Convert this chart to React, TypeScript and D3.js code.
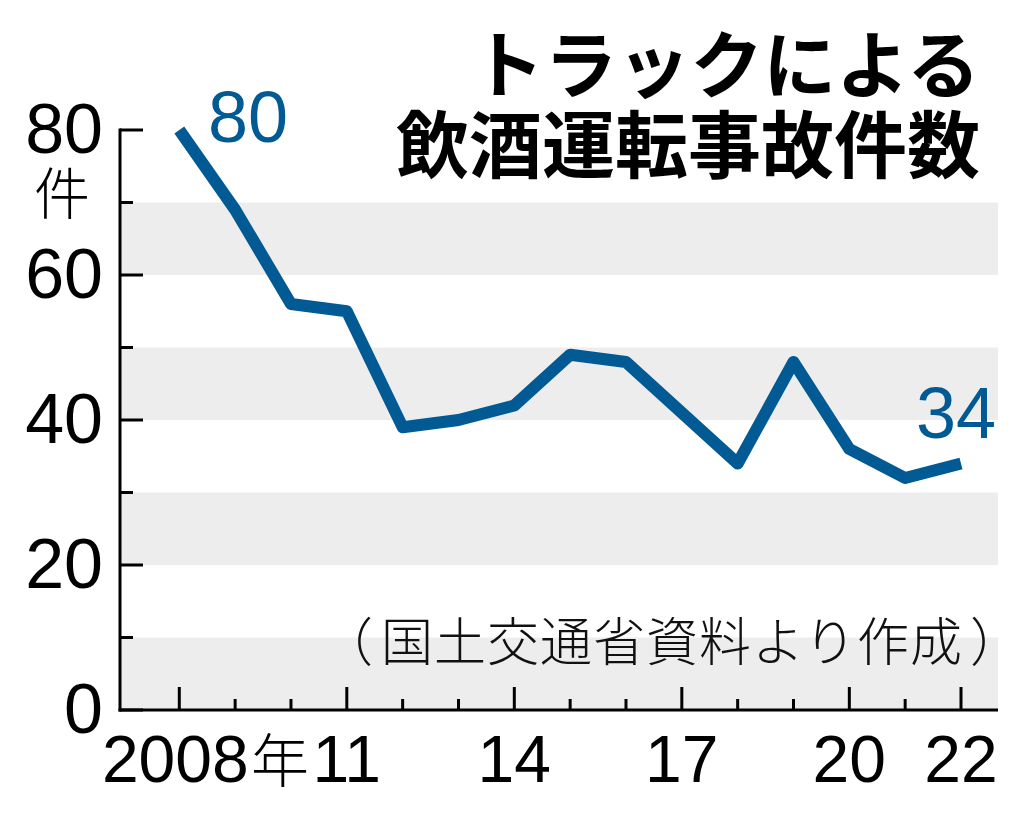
import React from "react";
import * as d3 from "d3";

const years = [2008, 2009, 2010, 2011, 2012, 2013, 2014, 2015, 2016, 2017, 2018, 2019, 2020, 2021, 2022];
const counts = [80, 69, 56, 55, 39, 40, 42, 49, 48, 41, 34, 48, 36, 32, 34];
const yMajorTicks = [0, 20, 40, 60, 80];
const yMinorTicks = [10, 30, 50, 70];
const bands = [[0, 10], [20, 30], [40, 50], [60, 70]];
const xMajorTicks = [2008, 2011, 2014, 2017, 2020, 2022];
const xTickLabels = ["2008", "11", "14", "17", "20", "22"];
const titleLines = ["トラックによる", "飲酒運転事故件数"];
const sourceOpen = "（";
const sourceBody = "国土交通省資料より作成";
const sourceClose = "）";
const unitLabel = "件";
const yearSuffix = "年";

const W = 1024;
const H = 814;
const left = 120;
const right = 998;
const BLUE = "#015a94";
const LATIN = "'Liberation Sans', Arial, sans-serif";
const CJK = "'Noto Sans CJK JP', sans-serif";

export default function App() {
  const x = d3.scaleLinear().domain([2008, 2022]).range([179.3, 961]);
  const y = d3.scaleLinear().domain([0, 80]).range([710, 130]);
  const line = d3
    .line<number>()
    .x((_, i) => x(years[i]))
    .y((d) => y(d));
  const first = counts[0];
  const last = counts[counts.length - 1];

  return (
    <svg
      width={W}
      height={H}
      viewBox={`0 0 ${W} ${H}`}
      style={{ position: "absolute", left: 0, top: 0, background: "#fff" }}
    >
      <rect x={0} y={0} width={W} height={H} fill="#fff" />
      {bands.map(([a, b], i) => (
        <rect key={i} x={left} y={y(b)} width={right - left} height={y(a) - y(b)} fill="#ededed" />
      ))}

      {/* source */}
      <text y={661} fontFamily={CJK} fontWeight={300} fontSize={52} fill="#111">
        <tspan x={321}>{sourceOpen}</tspan>
        <tspan x={381} letterSpacing={1}>{sourceBody}</tspan>
        <tspan x={970}>{sourceClose}</tspan>
      </text>

      {/* axes */}
      <line x1={left} x2={left} y1={y(80) - 1.5} y2={y(0) + 1.5} stroke="#000" strokeWidth={3} />
      <line x1={left - 1.5} x2={right} y1={y(0)} y2={y(0)} stroke="#000" strokeWidth={3} />
      {yMajorTicks.map((t) => (
        <line key={"ym" + t} x1={left} x2={left + 23} y1={y(t)} y2={y(t)} stroke="#000" strokeWidth={3} />
      ))}
      {yMinorTicks.map((t) => (
        <line key={"yn" + t} x1={left} x2={left + 13} y1={y(t)} y2={y(t)} stroke="#000" strokeWidth={3} />
      ))}
      {years.map((yr) => (
        <line
          key={"xt" + yr}
          x1={x(yr)}
          x2={x(yr)}
          y1={y(0)}
          y2={y(0) - (xMajorTicks.includes(yr) ? 23 : 11)}
          stroke="#000"
          strokeWidth={3}
        />
      ))}

      {/* y labels */}
      {yMajorTicks.map((t) => (
        <text key={"yl" + t} x={103} y={y(t) + 23} textAnchor="end" fontFamily={LATIN} fontSize={70} fill="#000">
          {t}
        </text>
      ))}
      <text x={62} y={214} textAnchor="middle" fontFamily={CJK} fontWeight={300} fontSize={56} fill="#000">
        {unitLabel}
      </text>

      {/* x labels */}
      {xMajorTicks.map((yr, i) => (
        <text
          key={"xl" + yr}
          x={x(yr)}
          y={782}
          textAnchor="middle"
          fontFamily={LATIN}
          fontSize={66}
          fill="#000"
          transform={i === 0 ? "translate(-4,0)" : undefined}
        >
          {xTickLabels[i]}
        </text>
      ))}
      <text x={251} y={782} fontFamily={CJK} fontWeight={300} fontSize={58} fill="#000">
        {yearSuffix}
      </text>

      {/* data line */}
      <path d={line(counts) || ""} fill="none" stroke={BLUE} strokeWidth={12} strokeLinejoin="round" />

      {/* value labels */}
      <text x={208} y={142} fontFamily={LATIN} fontSize={72} fill={BLUE}>
        {first}
      </text>
      <text x={996} y={438} textAnchor="end" fontFamily={LATIN} fontSize={72} fill={BLUE}>
        {last}
      </text>

      {/* title */}
      <text x={980} y={92} textAnchor="end" fontFamily={CJK} fontWeight={700} fontSize={73} fill="#000">
        {titleLines[0]}
      </text>
      <text x={980} y={172} textAnchor="end" fontFamily={CJK} fontWeight={700} fontSize={73} fill="#000">
        {titleLines[1]}
      </text>
    </svg>
  );
}
